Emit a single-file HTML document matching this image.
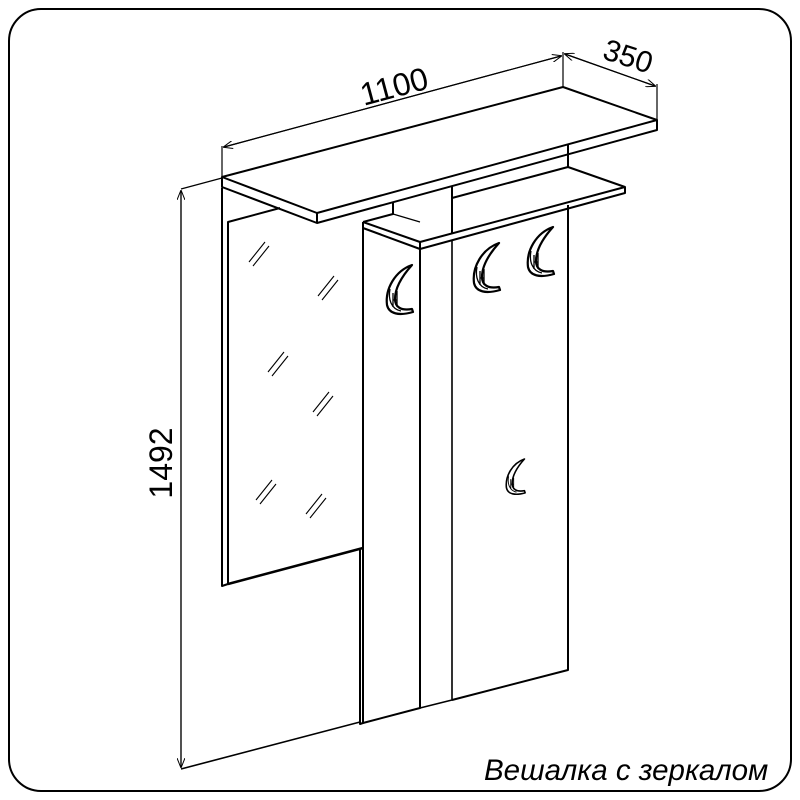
<!DOCTYPE html>
<html><head><meta charset="utf-8"><style>
html,body{margin:0;padding:0;background:#fff;width:800px;height:800px;overflow:hidden}
</style></head><body>
<svg width="800" height="800" viewBox="0 0 800 800" xmlns="http://www.w3.org/2000/svg">
<defs>
<marker id="ar" markerWidth="10" markerHeight="8" refX="9" refY="4" orient="auto" markerUnits="userSpaceOnUse">
<path d="M0,0 L10,4 L0,8" fill="none" stroke="#000" stroke-width="1"/></marker>
<g id="hook">
<path d="M27,0 C10,6 0,24 2,40 C4,49 14,51 28,47 L27,44 C16,46 10,42 10,34 C10,22 18,10 27,0 Z" fill="#fff" stroke="#000" stroke-width="2.2" stroke-linejoin="round"/>
<path d="M5,24 C3,34 6,44 16,46 M8,28 L8,42 M12,26 L12,42 M8,35 L12,35" fill="none" stroke="#000" stroke-width="1.3"/>
</g>
</defs>
<rect x="9" y="9" width="782" height="782" rx="32" fill="none" stroke="#000" stroke-width="2"/>
<g fill="none" stroke="#000" stroke-width="2" stroke-linejoin="round">
<line x1="181" y1="769" x2="360" y2="722" stroke-width="1.6"/>
<path d="M222,188 L222,586 L228,584 L228,222 L280,208"/>
<path d="M228,584 L363,548" stroke-width="2.5"/>
<path d="M360,550 L360,724 L363,723 L363,222"/>
<path d="M363,723 L420,708 L420,247"/>
<path d="M420,708 L452,700 L452,240" stroke-width="1.6"/>
<path d="M452,700 L568,670 L568,205"/>
<path d="M363,222 L420,242 L625,187 L625,193 L420,249 L363,228"/>
<path d="M420,242 L420,249"/>
<path d="M625,187 L568,167 L452,198"/>
<path d="M363,222 L393,214 L393,203"/>
<line x1="393" y1="214" x2="420" y2="222" stroke-width="1.2"/>
<line x1="452" y1="186" x2="452" y2="233"/>
<line x1="568" y1="133" x2="568" y2="167"/>
<path d="M222,177 L563,87 L657,120 L317,213 Z" fill="#fff"/>
<path d="M222,177 L222,187 L317,223 L657,130 L657,120"/>
<line x1="317" y1="213" x2="317" y2="223"/>
</g>
<g fill="none" stroke="#000" stroke-width="1.2">
<line x1="222" y1="177" x2="222" y2="146"/>
<line x1="563" y1="87" x2="563" y2="52"/>
<line x1="657" y1="120" x2="657" y2="84"/>
<line x1="224" y1="147" x2="561" y2="56" marker-end="url(#ar)"/>
<line x1="561" y1="56" x2="224" y2="147" marker-end="url(#ar)"/>
<line x1="565" y1="54" x2="655" y2="86" marker-end="url(#ar)"/>
<line x1="655" y1="86" x2="565" y2="54" marker-end="url(#ar)"/>
<line x1="181" y1="189" x2="222" y2="178"/>
<line x1="181" y1="191" x2="181" y2="767" marker-end="url(#ar)"/>
<line x1="181" y1="767" x2="181" y2="191" marker-end="url(#ar)"/>
</g>
<g stroke="#000" stroke-width="1.1">
<path d="M249,262 l16,-20 M253,266 l16,-20"/>
<path d="M318,296 l16,-20 M322,300 l16,-20"/>
<path d="M268,372 l16,-20 M272,376 l16,-20"/>
<path d="M313,412 l16,-20 M317,416 l16,-20"/>
<path d="M256,500 l16,-20 M260,504 l16,-20"/>
<path d="M306,514 l16,-20 M310,518 l16,-20"/>
</g>
<use href="#hook" x="385" y="265"/>
<use href="#hook" x="472" y="243"/>
<use href="#hook" x="526" y="227"/>
<use href="#hook" transform="translate(505,459) scale(0.72)"/>
<g font-family="'Liberation Sans', sans-serif" fill="#000">
<text x="397" y="97" font-size="32" transform="rotate(-15 397 97)" text-anchor="middle">1100</text>
<text x="625" y="66" font-size="30" transform="rotate(18 625 66)" text-anchor="middle">350</text>
<text x="172" y="463" font-size="32" transform="rotate(-90 172 463)" text-anchor="middle">1492</text>
<text x="484" y="780" font-size="29.5" font-style="italic">Вешалка с зеркалом</text>
</g>
</svg>
</body></html>
